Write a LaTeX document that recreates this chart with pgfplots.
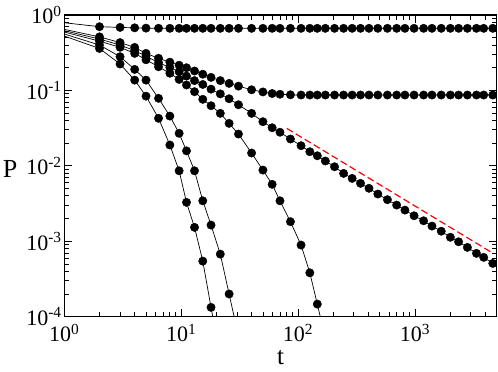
\documentclass[border=0pt]{standalone}
\usepackage{fontspec}
\setmainfont{Liberation Serif}
\usepackage{pgfplots}
\usepackage{pgfplotstable}
\pgfplotsset{compat=1.18}

% one table per series, P against t
\pgfplotstableread{
t P
1 0.79
2 0.70
3 0.685
4 0.676
5 0.670
6.4 0.667
8 0.666
9.6 0.666
11.1 0.666
13 0.666
15.3 0.666
18 0.666
21.6 0.666
25.7 0.666
30.9 0.666
40 0.666
50 0.666
60 0.666
70 0.666
86 0.666
106 0.666
126 0.666
146 0.666
171 0.666
205 0.666
245 0.666
290 0.666
342 0.666
404 0.666
481 0.666
581 0.666
697 0.666
820 0.666
982 0.666
1185 0.666
1397 0.666
1677 0.666
2008 0.666
2361 0.666
2808 0.666
3355 0.666
3870 0.666
4626 0.666
}\dataA

\pgfplotstableread{
t P
1 0.645
2 0.513
3 0.431
4 0.372
5 0.31
6.4 0.267
8 0.237
9.6 0.216
11.1 0.2
13 0.181
15.3 0.164
18 0.149
21.6 0.135
25.7 0.124
30.9 0.114
40 0.102
50 0.0955
60 0.091
70 0.089
86 0.0875
106 0.0869
126 0.0869
146 0.0869
171 0.0869
205 0.0869
245 0.0869
290 0.0869
342 0.0869
404 0.0869
481 0.0869
581 0.0869
697 0.0869
820 0.0869
982 0.0869
1185 0.0869
1397 0.0869
1677 0.0869
2008 0.0869
2361 0.0869
2808 0.0869
3355 0.0869
3870 0.0869
4626 0.0869
}\dataB

\pgfplotstableread{
t P
1 0.62
2 0.48
3 0.40
4 0.336
5 0.285
6.4 0.233
8 0.202
9.6 0.177
11.1 0.155
13 0.135
15.3 0.120
18 0.104
21.6 0.090
25.7 0.0776
30.9 0.0646
40 0.0497
50 0.0385
60 0.032
70 0.0279
86 0.0227
106 0.0185
126 0.0154
146 0.0136
171 0.0116
205 0.00973
245 0.00794
290 0.00682
342 0.00586
404 0.00504
481 0.00423
581 0.00356
697 0.00302
820 0.00259
982 0.00218
1185 0.00187
1397 0.00159
1677 0.00136
2008 0.00113
2361 0.000984
2808 0.000830
3355 0.000692
3870 0.000612
4626 0.000509
}\dataC

\pgfplotstableread{
t P
1 0.595
2 0.45
3 0.373
4 0.31
5 0.255
6.4 0.206
8 0.169
9.6 0.140
11.1 0.118
13 0.0962
15.3 0.0762
18 0.0627
21.6 0.0497
25.7 0.0366
30.9 0.0264
40 0.0148
50 0.00879
60 0.00569
70 0.00344
86 0.00182
106 0.000891
126 0.000382
146 0.000147
171 0.000052
}\dataD

\pgfplotstableread{
t P
1 0.56
2 0.40
3 0.28
4 0.19
5 0.137
6.4 0.0786
8 0.0457
9.6 0.027
11.1 0.0158
13 0.0086
15.3 0.00344
18 0.00164
21.6 0.000676
25.7 0.0002
30.9 0.000055
}\dataE

\pgfplotstableread{
t P
1 0.526
2 0.36
3 0.224
4 0.137
5 0.084
6.4 0.0427
8 0.0189
9.6 0.0086
11.1 0.00328
13 0.00153
15.3 0.000546
18 0.000133
21.6 0.000028
}\dataF

\begin{document}
\begin{tikzpicture}
\begin{axis}[
    scale only axis,
    width=432.4pt, height=301.7pt,
    xmode=log, ymode=log,
    xmin=1, xmax=5000,
    ymin=1e-4, ymax=1,
    clip marker paths=true,
    axis line style={line width=1.2pt},
    tick align=inside,
    major tick length=8pt,
    minor tick length=4.5pt,
    tick style={line width=0.8pt, black},
    xtick={1,10,100,1000},
    xticklabels={10\textsuperscript{0},10\textsuperscript{1},10\textsuperscript{2},10\textsuperscript{3}},
    minor xtick={2,3,4,5,6,7,8,9,20,30,40,50,60,70,80,90,200,300,400,500,600,700,800,900,2000,3000,4000},
    ytick={1e-4,1e-3,1e-2,1e-1,1},
    yticklabels={10\textsuperscript{-4},10\textsuperscript{-3},10\textsuperscript{-2},10\textsuperscript{-1},10\textsuperscript{0}},
    minor ytick={2e-4,3e-4,4e-4,5e-4,6e-4,7e-4,8e-4,9e-4,2e-3,3e-3,4e-3,5e-3,6e-3,7e-3,8e-3,9e-3,0.02,0.03,0.04,0.05,0.06,0.07,0.08,0.09,0.2,0.3,0.4,0.5,0.6,0.7,0.8,0.9},
    tick label style={font=\fontsize{22}{26}\selectfont},
    xticklabel style={inner sep=0pt, yshift=-7pt},
    yticklabel style={inner sep=0pt, xshift=-2.5pt},
    xlabel={t},
    ylabel={P},
    xlabel style={at={(axis description cs:0.5,-0.158)}, anchor=base, inner sep=0pt, font=\fontsize{25}{30}\selectfont},
    ylabel style={rotate=-90, at={(axis description cs:-0.1256,0.491)}, anchor=center, inner sep=0pt, font=\fontsize{26}{30}\selectfont},
    dat/.style={black, line width=0.7pt, mark=*, mark size=4.2pt,
        mark phase=2, mark repeat=1,
        mark options={solid, fill=black, line width=0.4pt}},
]
\addplot[dat] table[x=t, y=P] {\dataA};
\addplot[dat] table[x=t, y=P] {\dataB};
\addplot[dat] table[x=t, y=P] {\dataC};
\addplot[dat] table[x=t, y=P] {\dataD};
\addplot[dat] table[x=t, y=P] {\dataE};
\addplot[dat] table[x=t, y=P] {\dataF};
% reference slope
\addplot[red, line width=1.2pt, dash pattern=on 7pt off 3.5pt] coordinates {(80,0.0314) (4677,0.00069)};
\end{axis}
\pgfresetboundingbox
\path[use as bounding box] (-64.3pt,-55.3pt) rectangle (433.7pt,316.7pt);
\end{tikzpicture}
\end{document}
